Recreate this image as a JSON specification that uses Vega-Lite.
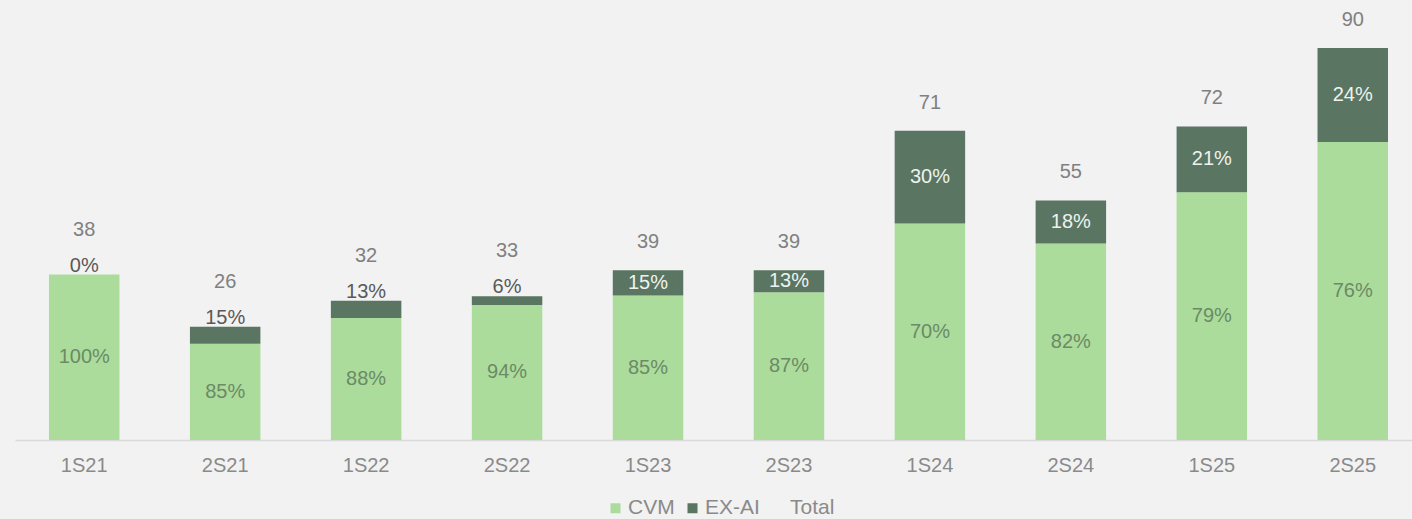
{
  "$schema": "https://vega.github.io/schema/vega-lite/v6.json",
  "autosize": "none",
  "width": 1397,
  "height": 435.5,
  "padding": {"left": 15, "top": 4.5, "right": 0, "bottom": 79},
  "background": "#f2f2f2",
  "config": {
    "view": {"stroke": null},
    "font": "Liberation Sans",
    "text": {"font": "Liberation Sans", "fontSize": 20}
  },
  "data": {
    "values": [
      {"period": "1S21", "series": "CVM", "value": 38, "pct": 1.0, "total": 38},
      {"period": "1S21", "series": "EX-AI", "value": 0, "pct": 0.0, "total": 38},
      {"period": "2S21", "series": "CVM", "value": 22.1, "pct": 0.85, "total": 26},
      {"period": "2S21", "series": "EX-AI", "value": 3.9, "pct": 0.15, "total": 26},
      {"period": "1S22", "series": "CVM", "value": 28, "pct": 0.88, "total": 32},
      {"period": "1S22", "series": "EX-AI", "value": 4, "pct": 0.13, "total": 32},
      {"period": "2S22", "series": "CVM", "value": 31, "pct": 0.94, "total": 33},
      {"period": "2S22", "series": "EX-AI", "value": 2, "pct": 0.06, "total": 33},
      {"period": "1S23", "series": "CVM", "value": 33.2, "pct": 0.85, "total": 39},
      {"period": "1S23", "series": "EX-AI", "value": 5.8, "pct": 0.15, "total": 39},
      {"period": "2S23", "series": "CVM", "value": 33.9, "pct": 0.87, "total": 39},
      {"period": "2S23", "series": "EX-AI", "value": 5.1, "pct": 0.13, "total": 39},
      {"period": "1S24", "series": "CVM", "value": 49.7, "pct": 0.70, "total": 71},
      {"period": "1S24", "series": "EX-AI", "value": 21.3, "pct": 0.30, "total": 71},
      {"period": "2S24", "series": "CVM", "value": 45.1, "pct": 0.82, "total": 55},
      {"period": "2S24", "series": "EX-AI", "value": 9.9, "pct": 0.18, "total": 55},
      {"period": "1S25", "series": "CVM", "value": 56.9, "pct": 0.79, "total": 72},
      {"period": "1S25", "series": "EX-AI", "value": 15.1, "pct": 0.21, "total": 72},
      {"period": "2S25", "series": "CVM", "value": 68.4, "pct": 0.76, "total": 90},
      {"period": "2S25", "series": "EX-AI", "value": 21.6, "pct": 0.24, "total": 90}
    ]
  },
  "transform": [
    {"stack": "value", "groupby": ["period"], "sort": [{"field": "series", "order": "ascending"}], "as": ["v0", "v1"]},
    {"calculate": "(datum.v0 + datum.v1) / 2", "as": "mid"}
  ],
  "encoding": {
    "x": {
      "field": "period",
      "type": "nominal",
      "sort": null,
      "scale": {"paddingInner": 0.5, "paddingOuter": 0.2057, "align": 0.586},
      "axis": {
        "title": null,
        "labelAngle": 0,
        "labelFont": "Liberation Sans",
        "labelFontSize": 20,
        "labelColor": "#8a8a8a",
        "ticks": false,
        "tickSize": 0,
        "labelPadding": 15,
        "domainColor": "#d9d9d9",
        "domainWidth": 1.5,
        "grid": false
      }
    }
  },
  "layer": [
    {
      "mark": {"type": "bar"},
      "encoding": {
        "y": {"field": "v0", "type": "quantitative", "scale": {"domain": [0, 100], "nice": false, "zero": true}, "axis": null},
        "y2": {"field": "v1"},
        "color": {
          "field": "series",
          "type": "nominal",
          "scale": {"domain": ["CVM", "EX-AI", "Total"], "range": ["#abdc9b", "#5a7562", "transparent"]},
          "legend": {
            "title": null,
            "orient": "none",
            "legendX": 590,
            "legendY": 493,
            "direction": "horizontal",
            "symbolType": "square",
            "symbolSize": 100,
            "symbolStrokeWidth": 0,
            "labelFont": "Liberation Sans",
            "labelFontSize": 21,
            "labelColor": "#8a8a8a",
            "labelOffset": 2,
            "columnPadding": 7
          }
        }
      }
    },
    {
      "transform": [{"filter": "datum.series == 'CVM'"}],
      "mark": {"type": "text", "baseline": "middle", "align": "center", "color": "#6b8a66"},
      "encoding": {
        "y": {"field": "mid", "type": "quantitative", "stack": null},
        "text": {"field": "pct", "type": "quantitative", "format": ".0%"}
      }
    },
    {
      "transform": [{"filter": "datum.series == 'EX-AI' && datum.value >= 5"}],
      "mark": {"type": "text", "baseline": "middle", "align": "center", "color": "#eef2ee"},
      "encoding": {
        "y": {"field": "mid", "type": "quantitative", "stack": null},
        "text": {"field": "pct", "type": "quantitative", "format": ".0%"}
      }
    },
    {
      "transform": [{"filter": "datum.series == 'EX-AI' && datum.value < 5"}],
      "mark": {"type": "text", "baseline": "middle", "align": "center", "color": "#595959", "dy": -9},
      "encoding": {
        "y": {"field": "v1", "type": "quantitative", "stack": null},
        "text": {"field": "pct", "type": "quantitative", "format": ".0%"}
      }
    },
    {
      "transform": [{"filter": "datum.series == 'EX-AI' && datum.value >= 5"}],
      "mark": {"type": "text", "baseline": "middle", "align": "center", "color": "#808080", "dy": -28},
      "encoding": {
        "y": {"field": "total", "type": "quantitative", "stack": null},
        "text": {"field": "total", "type": "quantitative"}
      }
    },
    {
      "transform": [{"filter": "datum.series == 'EX-AI' && datum.value < 5"}],
      "mark": {"type": "text", "baseline": "middle", "align": "center", "color": "#808080", "dy": -45},
      "encoding": {
        "y": {"field": "total", "type": "quantitative", "stack": null},
        "text": {"field": "total", "type": "quantitative"}
      }
    }
  ]
}
